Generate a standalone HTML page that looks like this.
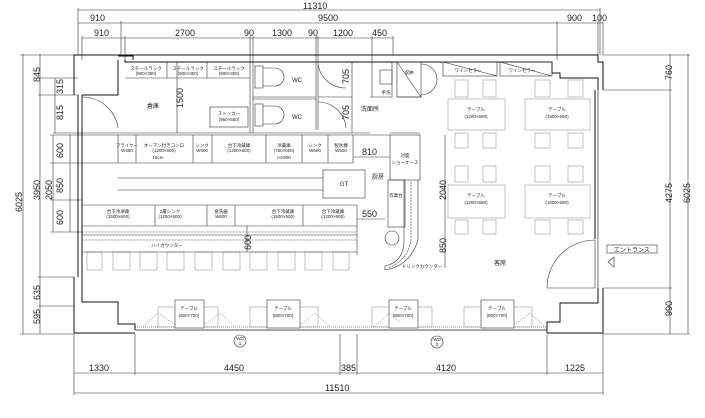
<!DOCTYPE html>
<html><head><meta charset="utf-8"><style>
html,body{margin:0;padding:0;background:#fff;width:705px;height:418px;overflow:hidden}
svg{display:block}
text{font-family:"Liberation Sans","Noto Sans CJK JP",sans-serif;fill:#222}
.d{font-size:9px}
.s{font-size:4.5px}
.m{font-size:6px}
</style></head><body>
<svg width="705" height="418" viewBox="0 0 705 418" xmlns="http://www.w3.org/2000/svg">
<g stroke="#333" stroke-width="0.6" fill="none">
<!-- top dimension lines -->
<line x1="78" y1="10" x2="600" y2="10"/><line x1="78" y1="8" x2="78" y2="55"/><line x1="600" y1="8" x2="600" y2="55"/>
<line x1="78" y1="23" x2="603" y2="23"/><line x1="121" y1="21" x2="121" y2="55"/><line x1="557" y1="21" x2="557" y2="60"/><line x1="598" y1="21" x2="598" y2="55"/><line x1="603" y1="21" x2="603" y2="55"/>
<line x1="82" y1="38" x2="393" y2="38"/>
<line x1="82" y1="36" x2="82" y2="60"/><line x1="125" y1="36" x2="125" y2="60"/><line x1="250" y1="36" x2="250" y2="62"/><line x1="253" y1="36" x2="253" y2="62"/><line x1="316" y1="36" x2="316" y2="62"/><line x1="318" y1="36" x2="318" y2="62"/><line x1="372" y1="36" x2="372" y2="97"/><line x1="393" y1="36" x2="393" y2="55"/>
<!-- left dims -->
<line x1="23" y1="54" x2="23" y2="334"/><line x1="40" y1="54" x2="40" y2="334"/><line x1="55" y1="78" x2="55" y2="133"/><line x1="53" y1="135" x2="53" y2="232"/><line x1="70" y1="135" x2="70" y2="232"/>
<line x1="20" y1="55" x2="74" y2="55"/><line x1="38" y1="95" x2="78" y2="95"/><line x1="38" y1="78" x2="78" y2="78"/><line x1="53" y1="133" x2="82" y2="133"/><line x1="50" y1="135" x2="82" y2="135"/><line x1="50" y1="163" x2="82" y2="163"/><line x1="50" y1="200" x2="82" y2="200"/><line x1="50" y1="232" x2="82" y2="232"/><line x1="38" y1="277" x2="74" y2="277"/><line x1="38" y1="306" x2="74" y2="306"/><line x1="20" y1="334" x2="74" y2="334"/>
<!-- right dims -->
<line x1="670" y1="54" x2="670" y2="334"/><line x1="688" y1="54" x2="688" y2="334"/>
<line x1="603" y1="55" x2="690" y2="55"/><line x1="603" y1="90" x2="672" y2="90"/><line x1="603" y1="288" x2="672" y2="288"/><line x1="603" y1="334" x2="690" y2="334"/>
<!-- bottom dims -->
<line x1="74" y1="373" x2="603" y2="373"/><line x1="74" y1="393" x2="603" y2="393"/>
<line x1="74" y1="334" x2="74" y2="395"/><line x1="135" y1="334" x2="135" y2="375"/><line x1="340" y1="334" x2="340" y2="375"/><line x1="357" y1="334" x2="357" y2="375"/><line x1="547" y1="334" x2="547" y2="375"/><line x1="603" y1="334" x2="603" y2="395"/>
</g>
<g stroke="#111" stroke-width="1" fill="none">
<!-- outer walls -->
<path d="M135 333 L74 333 L74 277 M74 95 L74 55 L598 55 L598 62 L603 62 L603 90 M603 288 L603 333 L547 333"/>
<path d="M78 95 L78 277"/>
<path d="M118 56 L133 56 L133 60 M125 60 L125 62 L552 62 L552 73 L560 73 L560 78 L598 78 L598 90"/>
<path d="M82 95 L118 95 L118 60 M82 95 L82 302 L118 302 L118 324 L135 324 L135 330"/>
<path d="M598 288 L598 303 L560 303 L560 322 L547 322 L547 333"/>
<line x1="135" y1="330" x2="547" y2="330" stroke-width="0.8"/>
<line x1="135" y1="327" x2="547" y2="327" stroke-dasharray="1,1" stroke-width="0.5"/>
<line x1="595" y1="90" x2="595" y2="239"/><line x1="598" y1="90" x2="598" y2="288" stroke-width="0.6"/>
</g>
<g stroke="#333" stroke-width="0.6" fill="none">
<!-- storage -->
<line x1="82" y1="133" x2="370" y2="133"/><line x1="82" y1="135" x2="390" y2="135"/>
<line x1="125" y1="78" x2="250" y2="78"/><line x1="167" y1="62" x2="167" y2="78"/><line x1="177" y1="62" x2="177" y2="133"/><line x1="207" y1="62" x2="207" y2="78"/><line x1="250" y1="62" x2="250" y2="133"/><line x1="253" y1="62" x2="253" y2="133"/>
<rect x="210" y="107" width="38" height="20"/>
<path d="M82 97 L82 128 M82 97 A 36 36 0 0 1 118 128"/>
<!-- WC -->
<line x1="253" y1="97" x2="316" y2="97"/><line x1="253" y1="99" x2="316" y2="99"/><line x1="316" y1="62" x2="316" y2="130"/><line x1="318" y1="62" x2="318" y2="130"/>
<rect x="255" y="66" width="8" height="22"/><path d="M263 68 L275 68 A 9 9 0 0 1 275 86 L263 86"/>
<rect x="255" y="104" width="8" height="22"/><path d="M263 106 L275 106 A 9 9 0 0 1 275 124 L263 124"/>
<path d="M318 64 A 28 28 0 0 0 346 88"/><path d="M318 102 A 28 28 0 0 1 346 128"/>
<line x1="352" y1="62" x2="352" y2="133"/><line x1="318" y1="97" x2="352" y2="97"/>
<rect x="380" y="70" width="12" height="14"/><line x1="370" y1="97" x2="392" y2="97"/><line x1="392" y1="62" x2="392" y2="97"/>
<!-- storage/wine -->
<rect x="397" y="62" width="24" height="35"/><line x1="397" y1="62" x2="421" y2="97"/>
<path d="M421 64 A 16 16 0 0 1 437 78 M421 95 A 16 16 0 0 0 437 78"/>
<rect x="443" y="62" width="54" height="14"/><line x1="443" y1="62" x2="497" y2="76"/>
<rect x="500" y="62" width="52" height="14"/><line x1="500" y1="62" x2="552" y2="76"/>
<line x1="397" y1="97" x2="421" y2="97"/><line x1="390" y1="133" x2="420" y2="133"/>
<line x1="445" y1="135" x2="445" y2="268"/>
</g>
<g stroke="#999" stroke-width="0.6" fill="none">
<!-- dining tables & chairs -->
<rect x="448" y="99" width="57" height="31"/><rect x="525" y="99" width="65" height="31"/>
<rect x="448" y="185" width="57" height="33"/><rect x="525" y="185" width="65" height="33"/>
<rect x="455" y="80" width="13" height="17"/><rect x="483" y="80" width="13" height="17"/><rect x="535" y="80" width="15" height="17"/><rect x="568" y="80" width="15" height="17"/>
<rect x="455" y="133" width="13" height="15"/><rect x="483" y="133" width="13" height="15"/><rect x="535" y="133" width="15" height="15"/><rect x="568" y="133" width="15" height="15"/>
<rect x="455" y="166" width="13" height="16"/><rect x="483" y="166" width="13" height="16"/><rect x="535" y="166" width="15" height="16"/><rect x="568" y="166" width="15" height="16"/>
<rect x="455" y="220" width="13" height="14"/><rect x="483" y="220" width="13" height="14"/><rect x="535" y="220" width="15" height="14"/><rect x="568" y="220" width="15" height="14"/>
<!-- stools -->
<rect x="87" y="252" width="15" height="18"/><rect x="113" y="252" width="17" height="18"/><rect x="140" y="252" width="17" height="18"/><rect x="167" y="252" width="17" height="18"/><rect x="195" y="252" width="17" height="18"/><rect x="223" y="252" width="17" height="18"/><rect x="250" y="252" width="17" height="18"/><rect x="278" y="252" width="17" height="18"/><rect x="305" y="252" width="17" height="18"/><rect x="333" y="252" width="16" height="18"/>
<!-- window tables -->
<rect x="158" y="307" width="60" height="20"/><rect x="250" y="307" width="68" height="20"/><rect x="372" y="307" width="60" height="20"/><rect x="464" y="307" width="68" height="20"/>
</g>
<g stroke="#333" stroke-width="0.6" fill="#fff">
<rect x="175" y="300" width="29" height="28"/><rect x="267" y="300" width="33" height="28"/><rect x="389" y="300" width="29" height="28"/><rect x="481" y="300" width="33" height="28"/>
</g>
<g stroke="#666" stroke-width="0.5" fill="none" stroke-dasharray="1.5,1">
<path d="M143 327 L158 313 L175 325"/><path d="M204 325 L220 313 L235 327"/><path d="M300 325 L315 313 L330 327"/><path d="M374 327 L389 313 L400 322"/><path d="M514 325 L530 313 L545 327"/>
</g>
<g stroke="#333" stroke-width="0.6" fill="none">
<!-- kitchen counters -->
<line x1="82" y1="163" x2="353" y2="163"/><line x1="353" y1="135" x2="353" y2="163"/>
<line x1="118" y1="135" x2="118" y2="163"/><line x1="136" y1="135" x2="136" y2="163"/><line x1="193" y1="135" x2="193" y2="163"/><line x1="212" y1="135" x2="212" y2="163"/><line x1="266" y1="135" x2="266" y2="163"/><line x1="302" y1="135" x2="302" y2="163"/><line x1="328" y1="135" x2="328" y2="163"/>
<line x1="353" y1="157" x2="390" y2="157"/><rect x="390" y="135" width="30" height="45"/>
<line x1="118" y1="178" x2="323" y2="178"/><line x1="118" y1="190" x2="323" y2="190"/>
<rect x="323" y="170" width="42" height="28"/>
<rect x="388" y="180" width="17" height="47"/>
<line x1="82" y1="205" x2="357" y2="205"/><line x1="82" y1="226" x2="357" y2="226"/><line x1="357" y1="219" x2="385" y2="219"/><line x1="357" y1="205" x2="357" y2="255"/>
<line x1="155" y1="205" x2="155" y2="226"/><line x1="207" y1="205" x2="207" y2="226"/><line x1="235" y1="205" x2="235" y2="226"/><line x1="303" y1="205" x2="303" y2="226"/>
<line x1="82" y1="235" x2="357" y2="235"/><line x1="82" y1="252" x2="357" y2="252"/>
<line x1="82" y1="232" x2="357" y2="232" stroke-dasharray="2,1.2"/><line x1="82" y1="240" x2="357" y2="240" stroke-dasharray="2,1.2"/>
<line x1="247" y1="226" x2="247" y2="252"/>
<!-- drink counter -->
<path d="M404 180 L404 240 Q404 262 385 266 L385 270 Q410 266 418 240 L418 180"/>
<path d="M411 182 L411 240 Q408 260 388 268" stroke-dasharray="2,1"/>
<circle cx="392" cy="238" r="7"/>
<!-- entrance door -->
<path d="M595 240 A 48 48 0 0 0 547 288 L595 288 Z"/>
<rect x="607" y="245" width="50" height="8"/>
<path d="M614 257 L608 262 L614 267 Z"/>
<circle cx="240" cy="341" r="6"/><circle cx="437" cy="342" r="6"/>
</g>
<!-- dimension text -->
<g class="d">
<text x="303" y="9">11310</text>
<text x="90" y="21">910</text><text x="318" y="21">9500</text><text x="567" y="21">900</text><text x="592" y="21">100</text>
<text x="94" y="36">910</text><text x="175" y="36">2700</text><text x="244" y="36">90</text><text x="272" y="36">1300</text><text x="308" y="36">90</text><text x="333" y="36">1200</text><text x="372" y="36">450</text>
<text x="362" y="155">810</text><text x="362" y="217">550</text>
<text x="89" y="371">1330</text><text x="224" y="371">4450</text><text x="341" y="371">385</text><text x="436" y="371">4120</text><text x="565" y="371">1225</text>
<text x="325" y="391">11510</text>
</g>
<g class="d">
<text transform="translate(40,82) rotate(-90)">845</text>
<text transform="translate(63,94) rotate(-90)">315</text>
<text transform="translate(63,120) rotate(-90)">815</text>
<text transform="translate(63,158) rotate(-90)">600</text>
<text transform="translate(40,200) rotate(-90)">3950</text>
<text transform="translate(52,200) rotate(-90)">2050</text>
<text transform="translate(63,193) rotate(-90)">850</text>
<text transform="translate(63,225) rotate(-90)">600</text>
<text transform="translate(22,212) rotate(-90)">6025</text>
<text transform="translate(40,300) rotate(-90)">635</text>
<text transform="translate(40,324) rotate(-90)">595</text>
<text transform="translate(183,108) rotate(-90)">1500</text>
<text transform="translate(349,84) rotate(-90)">705</text>
<text transform="translate(349,120) rotate(-90)">705</text>
<text transform="translate(251,250) rotate(-90)">600</text>
<text transform="translate(446,200) rotate(-90)">2040</text>
<text transform="translate(446,253) rotate(-90)">850</text>
<text transform="translate(672,80) rotate(-90)">760</text>
<text transform="translate(672,203) rotate(-90)">4275</text>
<text transform="translate(672,316) rotate(-90)">990</text>
<text transform="translate(690,203) rotate(-90)">6025</text>
</g>
<!-- labels -->
<g class="s" text-anchor="middle">
<text x="146" y="70">スチールラック</text><text x="146" y="75">(900×350)</text>
<text x="188" y="70">スチールラック</text><text x="188" y="75">(900×350)</text>
<text x="229" y="70">スチールラック</text><text x="229" y="75">(900×350)</text>
<text x="229" y="115">ストッカー</text><text x="229" y="121">(950×550)</text>
<text x="127" y="147">フライヤー</text><text x="127" y="152">W450</text>
<text x="164" y="147">オーブン付きコンロ</text><text x="164" y="152">(1200×600)</text><text x="158" y="159">15cm</text>
<text x="202" y="147">シンク</text><text x="202" y="152">W400</text>
<text x="239" y="147">台下冷蔵庫</text><text x="239" y="152">(1200×600)</text>
<text x="284" y="147">冷蔵庫</text><text x="284" y="152">(750×600)</text><text x="284" y="159">H1900</text>
<text x="315" y="147">シンク</text><text x="315" y="152">W600</text>
<text x="341" y="147">製氷機</text><text x="341" y="152">W500</text>
<text x="405" y="157">対面</text><text x="405" y="164">ショーケース</text>
<text x="396" y="197">作業台</text>
<text x="118" y="213">台下冷凍庫</text><text x="118" y="218">(1500×600)</text>
<text x="170" y="213">2層シンク</text><text x="170" y="218">(1200×600)</text>
<text x="221" y="213">食洗器</text><text x="221" y="218">W600</text>
<text x="283" y="213">台下冷蔵庫</text><text x="283" y="218">(1500×600)</text>
<text x="333" y="213">台下冷蔵庫</text><text x="333" y="218">(1200×600)</text>
<text x="167" y="247">ハイカウンター</text>
<text x="422" y="268">ドリンクカウンター</text>
<text x="386" y="94">手洗</text>
<text x="409" y="74">収納</text>
<text x="468" y="72">ワインセラー</text><text x="522" y="72">ワインセラー</text>
<text x="476" y="111">テーブル</text><text x="476" y="118">(1200×680)</text>
<text x="557" y="111">テーブル</text><text x="557" y="118">(1500×690)</text>
<text x="476" y="197">テーブル</text><text x="476" y="204">(1200×680)</text>
<text x="557" y="197">テーブル</text><text x="557" y="204">(1500×690)</text>
<text x="189" y="310">テーブル</text><text x="189" y="317">(800×700)</text>
<text x="283" y="310">テーブル</text><text x="283" y="317">(800×700)</text>
<text x="403" y="310">テーブル</text><text x="403" y="317">(800×700)</text>
<text x="497" y="310">テーブル</text><text x="497" y="317">(800×700)</text>
<text x="240" y="340">WD</text><text x="240" y="345">1</text>
<text x="437" y="341">WD</text><text x="437" y="346">2</text>
</g>
<g class="m" text-anchor="middle">
<text x="153" y="108">倉庫</text>
<text x="297" y="82">WC</text><text x="297" y="119">WC</text>
<text x="370" y="111">洗面所</text>
<text x="344" y="186">GT</text>
<text x="378" y="179">厨房</text>
<text x="500" y="265">客席</text>
<text x="632" y="252">エントランス</text>
</g>
</svg>
</body></html>
